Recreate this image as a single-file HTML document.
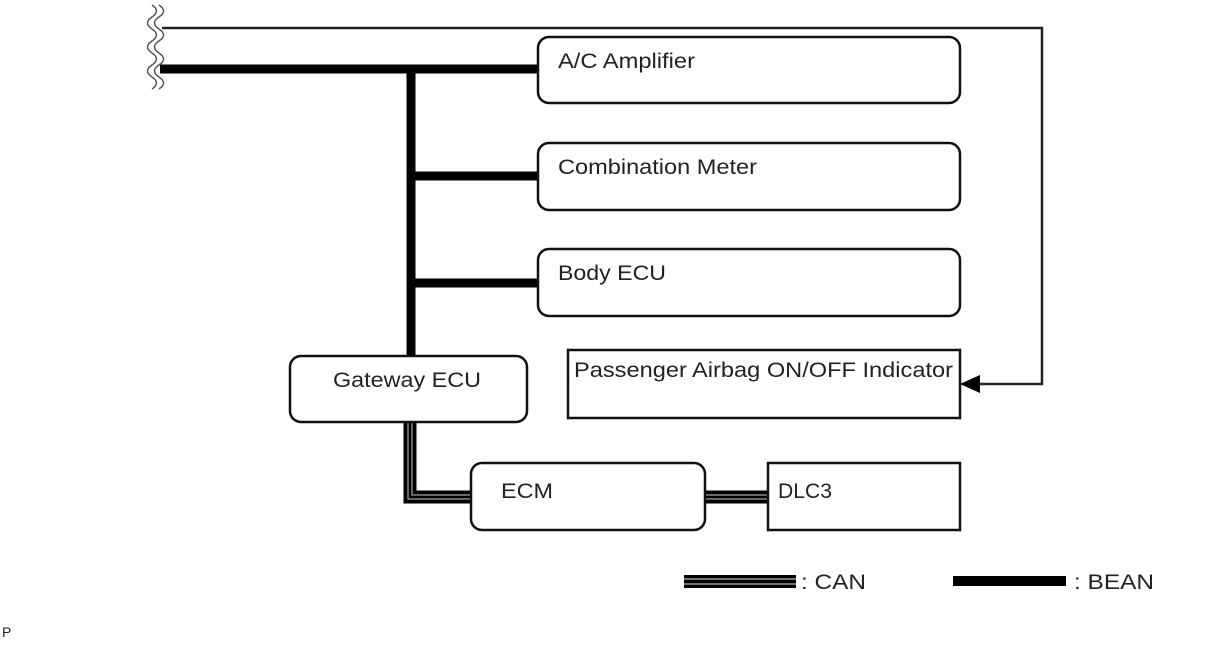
<!DOCTYPE html>
<html><head><style>
body{margin:0;background:#fff;}
svg text{font-family:"Liberation Sans",Arial,sans-serif;font-size:21px;fill:#222;}
</style></head><body>
<svg width="1206" height="642" viewBox="0 0 1206 642" xmlns="http://www.w3.org/2000/svg">
<!-- break marks -->
<path d="M152,5 q9,6 0,12 q-9,6 0,12 q9,6 0,12 q-9,6 0,12 q9,6 0,12 q-9,6 0,12 q9,6 0,12" fill="none" stroke="#555" stroke-width="1.5"/>
<path d="M159,5 q9,6 0,12 q-9,6 0,12 q9,6 0,12 q-9,6 0,12 q9,6 0,12 q-9,6 0,12 q9,6 0,12" fill="none" stroke="#555" stroke-width="1.5"/>
<!-- thin line -->
<polyline points="162,28 1042,28 1042,384 962,384" fill="none" stroke="#222" stroke-width="2.5"/>
<path d="M960,384 L980,375 L980,393z" fill="#000"/>
<!-- BEAN -->
<g stroke="#000" stroke-width="9" fill="none">
<polyline points="160,69 538,69"/>
<line x1="411" y1="69" x2="411" y2="356"/>
<line x1="411" y1="176" x2="538" y2="176"/>
<line x1="411" y1="283" x2="538" y2="283"/>
</g>
<!-- CAN -->
<g fill="none">
<polyline points="410,422 410,497 471,497" stroke="#000" stroke-width="13"/>
<polyline points="408,422 408,499 471,499" stroke="#888" stroke-width="1.5"/>
<polyline points="412,422 412,495 471,495" stroke="#888" stroke-width="1.5"/>
<line x1="705" y1="497" x2="768" y2="497" stroke="#000" stroke-width="13"/>
<line x1="705" y1="495" x2="768" y2="495" stroke="#888" stroke-width="1.5"/>
<line x1="705" y1="499" x2="768" y2="499" stroke="#888" stroke-width="1.5"/>
</g>
<!-- boxes -->
<g fill="#fff" stroke="#111" stroke-width="2.5">
<rect x="538" y="37" width="422" height="66" rx="11"/>
<rect x="538" y="143" width="422" height="67" rx="11"/>
<rect x="538" y="249" width="422" height="67" rx="11"/>
<rect x="568" y="350" width="392" height="68"/>
<rect x="290" y="356" width="237" height="66" rx="11"/>
<rect x="471" y="463" width="234" height="67" rx="11"/>
<rect x="768" y="463" width="192" height="67"/>
</g>
<text x="558" y="68" textLength="137" lengthAdjust="spacingAndGlyphs">A/C Amplifier</text>
<text x="558" y="174" textLength="199" lengthAdjust="spacingAndGlyphs">Combination Meter</text>
<text x="558" y="280" textLength="108" lengthAdjust="spacingAndGlyphs">Body ECU</text>
<text x="574" y="377" textLength="379" lengthAdjust="spacingAndGlyphs">Passenger Airbag ON/OFF Indicator</text>
<text x="333" y="387" textLength="148" lengthAdjust="spacingAndGlyphs">Gateway ECU</text>
<text x="501" y="498" textLength="52" lengthAdjust="spacingAndGlyphs">ECM</text>
<text x="778" y="498" textLength="54" lengthAdjust="spacingAndGlyphs">DLC3</text>
<!-- legend -->
<rect x="684" y="575" width="112" height="13" fill="#000"/>
<line x1="684" y1="579" x2="796" y2="579" stroke="#999" stroke-width="1.5"/>
<line x1="684" y1="584" x2="796" y2="584" stroke="#999" stroke-width="1.5"/>
<text x="801" y="589" textLength="65" lengthAdjust="spacingAndGlyphs">: CAN</text>
<rect x="953" y="576" width="113" height="10" fill="#000"/>
<text x="1074" y="589" textLength="80" lengthAdjust="spacingAndGlyphs">: BEAN</text>
<text x="2" y="637" style="font-size:14px">P</text>
</svg>
</body></html>
